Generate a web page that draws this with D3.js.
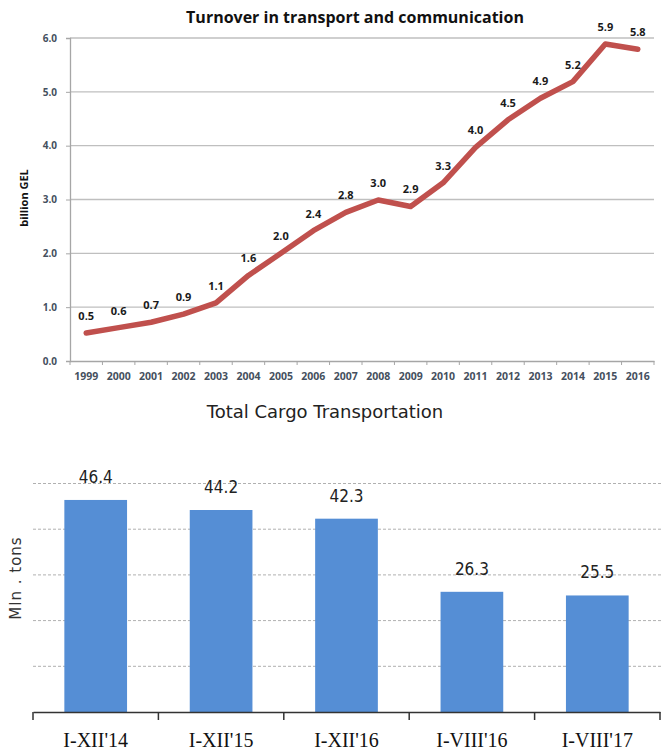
<!DOCTYPE html>
<html>
<head>
<meta charset="utf-8">
<script src="https://cdn.jsdelivr.net/npm/d3@7"></script>
<style>
  body { margin: 0; background: #fff; }
  svg { display: block; }
</style>
</head>
<body>
<main></main>
<script>
// turnover line chart
const years = ['1999', '2000', '2001', '2002', '2003', '2004', '2005', '2006', '2007',
  '2008', '2009', '2010', '2011', '2012', '2013', '2014', '2015', '2016']
const turnover = [0.52, 0.62, 0.72, 0.87, 1.08, 1.59, 2.0, 2.42, 2.76,
  2.99, 2.87, 3.31, 3.97, 4.48, 4.88, 5.19, 5.89, 5.79]
const turnoverLabels = ['0.5', '0.6', '0.7', '0.9', '1.1', '1.6', '2.0', '2.4', '2.8',
  '3.0', '2.9', '3.3', '4.0', '4.5', '4.9', '5.2', '5.9', '5.8']
const turnoverTicks = [0, 1, 2, 3, 4, 5, 6]

// cargo bar chart
const periods = ["I-XII'14", "I-XII'15", "I-XII'16", "I-VIII'16", "I-VIII'17"]
const cargo = [46.4, 44.2, 42.3, 26.3, 25.5]
const cargoGrid = [10, 20, 30, 40, 50]

const W = 663
const H = 754
const svg = d3.select('main').append('svg')
  .attr('width', W)
  .attr('height', H)

/* ---- top chart ---- */
const lineChart = svg.append('g')
const x1 = d3.scaleBand().domain(years).range([70, 654])
const y1 = d3.scaleLinear().domain([0, 6]).range([361, 38])

lineChart.append('text')
  .attr('x', 355)
  .attr('y', 23)
  .attr('text-anchor', 'middle')
  .attr('font-family', 'Open Sans, sans-serif')
  .attr('font-weight', 'bold')
  .attr('font-size', '16px')
  .attr('fill', '#111')
  .text('Turnover in transport and communication')

lineChart.selectAll('.grid1')
  .data(turnoverTicks.filter(d => d > 0))
  .enter()
  .append('line')
  .attr('class', 'grid1')
  .attr('x1', 70)
  .attr('x2', 654)
  .attr('y1', d => y1(d))
  .attr('y2', d => y1(d))
  .attr('stroke', '#bfbfbf')
  .attr('stroke-width', 1.3)

const yAxis1 = lineChart.append('g')
  .attr('transform', 'translate(70,0)')
  .call(d3.axisLeft(y1).tickValues(turnoverTicks).tickFormat(d3.format('.1f')).tickSize(4).tickPadding(9))
yAxis1.select('.domain').attr('stroke', '#a6a6a6').attr('stroke-width', 1.3)
yAxis1.selectAll('.tick line').attr('stroke', '#a6a6a6')
yAxis1.selectAll('text')
  .attr('font-family', 'Open Sans, sans-serif')
  .attr('font-weight', 'bold')
  .attr('font-size', '10px')
  .attr('fill', '#45505e')

const xAxis1 = lineChart.append('g')
  .attr('transform', 'translate(0,361)')
  .call(d3.axisBottom(x1).tickSize(0).tickPadding(12))
xAxis1.select('.domain').attr('stroke', '#a6a6a6').attr('stroke-width', 1.3)
xAxis1.selectAll('text')
  .attr('font-family', 'Open Sans, sans-serif')
  .attr('font-weight', 'bold')
  .attr('font-size', '10.5px')
  .attr('fill', '#45505e')
// tick marks sit on the band boundaries
lineChart.selectAll('.btick1')
  .data(years.concat(['end']))
  .enter()
  .append('line')
  .attr('class', 'btick1')
  .attr('x1', (d, i) => x1.range()[0] + i * x1.step())
  .attr('x2', (d, i) => x1.range()[0] + i * x1.step())
  .attr('y1', 361)
  .attr('y2', 365)
  .attr('stroke', '#a6a6a6')

lineChart.append('text')
  .attr('transform', 'translate(28,198) rotate(-90)')
  .attr('text-anchor', 'middle')
  .attr('font-family', 'Open Sans, sans-serif')
  .attr('font-weight', 'bold')
  .attr('font-size', '11px')
  .attr('fill', '#111')
  .text('billion GEL')

const line = d3.line()
  .x((d, i) => x1(years[i]) + x1.bandwidth() / 2)
  .y(d => y1(d))
lineChart.append('path')
  .datum(turnover)
  .attr('fill', 'none')
  .attr('stroke', '#c0504d')
  .attr('stroke-width', 5.5)
  .attr('stroke-linejoin', 'round')
  .attr('stroke-linecap', 'round')
  .attr('d', line)

lineChart.selectAll('.lbl1')
  .data(turnover)
  .enter()
  .append('text')
  .attr('class', 'lbl1')
  .attr('x', (d, i) => x1(years[i]) + x1.bandwidth() / 2)
  .attr('y', d => y1(d) - 13)
  .attr('text-anchor', 'middle')
  .attr('font-family', 'Open Sans, sans-serif')
  .attr('font-weight', 'bold')
  .attr('font-size', '11px')
  .attr('fill', '#1a1a1a')
  .text((d, i) => turnoverLabels[i])

/* ---- bottom chart ---- */
const barChart = svg.append('g')
const x2 = d3.scaleBand().domain(periods).range([33, 660]).paddingInner(0.5).paddingOuter(0.25)
const y2 = d3.scaleLinear().domain([0, 50]).range([712, 483.5])

barChart.append('text')
  .attr('x', 325)
  .attr('y', 418)
  .attr('text-anchor', 'middle')
  .attr('font-family', 'DejaVu Sans, sans-serif')
  .attr('font-size', '18px')
  .attr('fill', '#222')
  .text('Total Cargo Transportation')

barChart.selectAll('.grid2')
  .data(cargoGrid)
  .enter()
  .append('line')
  .attr('class', 'grid2')
  .attr('x1', 33)
  .attr('x2', 663)
  .attr('y1', d => y2(d))
  .attr('y2', d => y2(d))
  .attr('stroke', '#b0b0b0')
  .attr('stroke-dasharray', '3,2')

barChart.selectAll('.bar')
  .data(cargo)
  .enter()
  .append('rect')
  .attr('class', 'bar')
  .attr('x', (d, i) => x2(periods[i]))
  .attr('width', x2.bandwidth())
  .attr('y', d => y2(d))
  .attr('height', d => y2(0) - y2(d))
  .attr('fill', '#558ed5')

barChart.selectAll('.lbl2')
  .data(cargo)
  .enter()
  .append('text')
  .attr('class', 'lbl2')
  .attr('x', (d, i) => x2(periods[i]) + x2.bandwidth() / 2)
  .attr('y', d => y2(d) - 17)
  .attr('text-anchor', 'middle')
  .attr('font-family', 'DejaVu Sans Condensed, DejaVu Sans, sans-serif')
  .attr('font-size', '17px')
  .attr('fill', '#222')
  .text(d => d3.format('.1f')(d))

const xAxis2 = barChart.append('g')
  .attr('transform', 'translate(0,712)')
  .call(d3.axisBottom(x2).tickSize(0).tickPadding(21))
xAxis2.select('.domain').attr('stroke', '#333').attr('stroke-width', 1.5)
xAxis2.selectAll('text')
  .attr('font-family', 'Liberation Serif, serif')
  .attr('font-size', '20px')
  .attr('fill', '#111')
barChart.selectAll('.btick2')
  .data(periods.concat(['end']))
  .enter()
  .append('line')
  .attr('class', 'btick2')
  .attr('x1', (d, i) => 33 + i * (627 / periods.length))
  .attr('x2', (d, i) => 33 + i * (627 / periods.length))
  .attr('y1', 712)
  .attr('y2', 720)
  .attr('stroke', '#333')
  .attr('stroke-width', 1.5)

barChart.append('text')
  .attr('transform', 'translate(21,578) rotate(-90)')
  .attr('text-anchor', 'middle')
  .attr('font-family', 'DejaVu Sans, sans-serif')
  .attr('font-size', '15px')
  .attr('letter-spacing', '1px')
  .attr('fill', '#333')
  .text('Mln . tons')
</script>
</body>
</html>
